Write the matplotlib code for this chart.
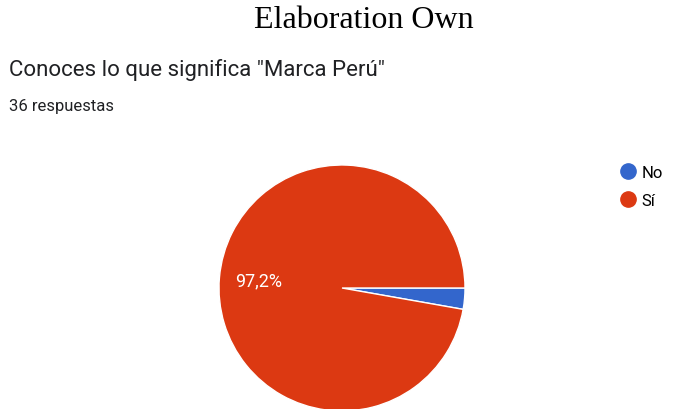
import matplotlib.pyplot as plt
from matplotlib.lines import Line2D

# datos de la encuesta
etiquetas = ['No', 'Sí']
respuestas = [1, 35]
colores = ['#3366CC', '#DC3912']
titulo = 'Elaboration Own'
pregunta = 'Conoces lo que significa "Marca Perú"'
total_txt = '36 respuestas'

W, H = 693, 410
fig = plt.figure(figsize=(W / 100, H / 100), dpi=100)

# textos de cabecera
fig.text(364 / W, 1 - 20 / H, titulo, family='Liberation Serif', fontsize=23,
         ha='center', va='center', color='black')
fig.text(9 / W, 1 - 70 / H, pregunta, family='Roboto', fontsize=16,
         ha='left', va='center', color='#202124')
fig.text(9 / W, 1 - 106 / H, total_txt, family='Roboto', fontsize=12,
         ha='left', va='center', color='#202124')

# tarta: centro (342, 289) px, radio 123 px
cx, cy, r = 342, 289, 123
ax = fig.add_axes([(cx - r) / W, (H - cy - r) / H, 2 * r / W, 2 * r / H])
wedges, _, autotexts = ax.pie(
    respuestas, colors=colores, startangle=0, counterclock=False,
    autopct=lambda p: f'{p:.1f}%'.replace('.', ',') if p > 5 else '',
    pctdistance=0.68,
    wedgeprops=dict(edgecolor='white', linewidth=1),
    textprops=dict(color='white', family='Roboto', fontsize=13))
ax.set_xlim(-1, 1)
ax.set_ylim(-1, 1)
ax.set_aspect('equal')
ax.axis('off')

# leyenda con círculos
handles = [Line2D([], [], marker='o', linestyle='', markersize=11,
                  markerfacecolor=c, markeredgecolor=c) for c in colores]
fig.legend(handles, etiquetas, loc='upper left', bbox_to_anchor=(603 / W, 1 - 151 / H),
           frameon=False, prop={'family': 'Roboto', 'size': 12},
           handletextpad=0.2, labelspacing=0.75, handlelength=1.2)

fig.savefig('out.png', dpi=100)
